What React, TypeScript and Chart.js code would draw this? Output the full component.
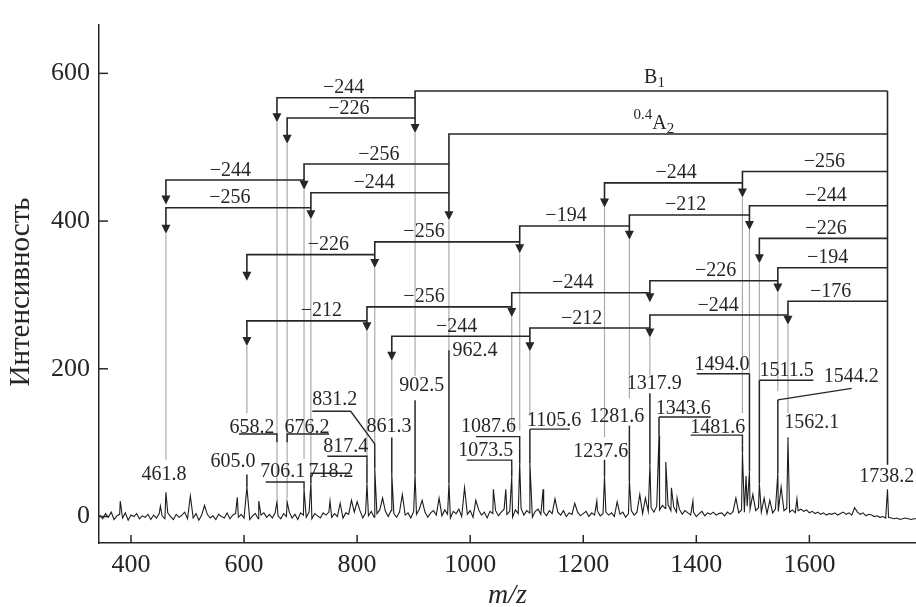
import { useEffect, useRef } from "react";
import { Chart, registerables } from "chart.js";

Chart.register(...registerables);

const FONT = '"Liberation Serif", "Times New Roman", serif';
const INK = "#262626";
const GRAY = "#ababab";

// ---------- data ----------
const xTicks = [400, 600, 800, 1000, 1200, 1400, 1600];
const yTicks = [0, 200, 400, 600];
const xTitle = "m/z";
const yTitle = "Интенсивность";

// baseline noise, read roughly every 5 m/z starting at 345
const noiseStartMz = 345;
const noiseStepMz = 5;
const noise = [
  2, -3, 4, -1, 6, -4, 1, 3, -2, 5, -5, 2, 0, 4, -3, 1, -1, 3, -4, 2,
  -2, 4, 1, -3, 5, 0, -4, 3, -1, 2, 6, -3, 1, -2, 4, -5, 2, 0, 3, -2,
  1, -4, 3, 0, -2, 5, -3, 2, 4, -1, 3, -2, 6, -4, 1, 4, -3, 2, 5, -1,
  3, -2, 5, 1, -3, 4, 0, 6, -2, 3, -4, 5, 2, -1, 6, -3, 4, 1, -2, 5,
  2, 6, -1, 4, 0, 7, -2, 5, 3, -1, 6, 2, 8, -2, 5, 1, 7, -1, 4, 9,
  3, 7, 0, 8, 4, -1, 6, 9, 2, 5, -2, 7, 3, 10, 1, 6, -1, 5, 8, 2,
  6, 1, 9, 3, -2, 7, 4, 10, 0, 6, 3, 8, -1, 5, 9, 2, 6, -2, 7, 4,
  8, 1, 6, 10, 3, 7, -1, 9, 4, 11, 2, 8, 5, -1, 7, 10, 3, 6, 1, 8,
  4, -1, 6, 2, 8, 0, 5, 3, -2, 6, 1, 4, 7, 0, 5, 2, 8, 1, 4, 6,
  2, 5, 0, 7, 3, 6, -1, 4, 8, 2, 6, 9, 4, 10, 7, 12, 6, 14, 9, 15,
  11, 16, 8, 13, 6, 10, 3, 8, 5, 2, 6, 0, 4, 7, 1, 5, 3, 6, 2, 4,
  5, 1, 6, 3, 7, 2, 5, 9, 6, 14, 10, 16, 8, 12, 6, 9, 4, 8, 5, 10,
  7, 12, 8, 11, 6, 9, 5, 8, 10, 7, 9, 5, 7, 4, 6, 3, 5, 2, 4, 3,
  5, 2, 4, 6, 3, 5, 2, 4, 6, 3, 5, 1, 3, 2, 0, 1, -1, 0, -2, -1,
  -2, -3, -2, -4, -3, -2, -3, -4, -3, -3,
];

// unlabelled spikes
const extraPeakMz = [381, 452, 505, 530, 588, 626, 752, 770, 790, 800, 845, 880, 915, 945, 990, 1010, 1041, 1063, 1129, 1150, 1185, 1224, 1260, 1300, 1310, 1346, 1356, 1366, 1394, 1470, 1488, 1500, 1520, 1530, 1550, 1578, 1680];
const extraPeakHeight = [21, 14, 28, 15, 26, 21, 21, 18, 22, 20, 25, 30, 22, 25, 39, 22, 37, 37, 37, 24, 18, 21, 20, 30, 25, 74, 39, 25, 21, 25, 55, 30, 25, 22, 40, 24, 12];

// labelled ions
const ionText = ["461.8", "605.0", "658.2", "676.2", "706.1", "718.2", "817.4", "831.2", "861.3", "902.5", "962.4", "1073.5", "1087.6", "1105.6", "1237.6", "1281.6", "1317.9", "1343.6", "1481.6", "1494.0", "1511.5", "1544.2", "1562.1", "1738.2"];
const ionMz = [461.8, 605.0, 658.2, 676.2, 706.1, 718.2, 817.4, 831.2, 861.3, 902.5, 962.4, 1073.5, 1087.6, 1105.6, 1237.6, 1281.6, 1317.9, 1334, 1481.6, 1494.0, 1511.5, 1544.2, 1562.1, 1738.2];
const ionHeight = [33, 40, 20, 20, 37, 45, 45, 65, 58, 57, 45, 54, 72, 72, 54, 48, 70, 110, 87, 61, 45, 59, 105, 37];

// fragmentation losses (parent -> daughter)
const lossFrom = [1738.2, 1738.2, 902.5, 902.5, 962.4, 962.4, 706.1, 718.2, 1281.6, 1087.6, 831.2, 817.4, 1073.5, 1105.6, 1317.9, 1317.9, 1562.1, 1544.2, 1481.6, 1494.0, 1738.2, 1738.2, 1738.2, 1738.2, 1738.2];
const lossTo = [902.5, 962.4, 658.2, 676.2, 706.1, 718.2, 461.8, 461.8, 1087.6, 831.2, 605.0, 605.0, 817.4, 861.3, 1105.6, 1073.5, 1317.9, 1317.9, 1237.6, 1281.6, 1481.6, 1494.0, 1511.5, 1544.2, 1562.1];
const lossText = ["B_{1}", "^{0.4}A_{2}", "−244", "−226", "−256", "−244", "−244", "−256", "−194", "−256", "−226", "−212", "−256", "−244", "−212", "−244", "−244", "−226", "−244", "−212", "−256", "−244", "−226", "−194", "−176"];

// ---------- annotation layout (axis units) ----------
const lossLevel = [576.2, 517.9, 566.9, 539.5, 477.2, 438.4, 455.6, 418.1, 393.4, 371.8, 354.6, 264.9, 283.8, 244.1, 255.2, 302.9, 272.8, 319.2, 451.7, 408.3, 467.2, 420.8, 376.6, 336.8, 291.4];
const lossTip = [519.2, 401.3, 533.8, 504.6, 442.4, 402.6, 422.5, 383, 356.3, 336.4, 319.2, 230.9, 250.7, 211, 223.8, 270.2, 242.4, 290.1, 418.5, 374.8, 431.8, 388.1, 343, 303.3, 259.6];
const lossLabelX = [1326, 1325, 776, 785.6, 838.4, 829.9, 575.7, 575.1, 1169.5, 918.3, 749, 736.6, 918.3, 976.2, 1197.3, 1181.4, 1438.4, 1434, 1364.1, 1380.9, 1626.4, 1629.4, 1629.4, 1632.4, 1637.7];
const lossLabelLift = [8.3, 5, 4.5, 4.5, 4.5, 4.5, 4.5, 4.5, 4.5, 4.5, 4.5, 4.5, 4.5, 4.5, 4.5, 4.5, 4.5, 4.5, 4.5, 4.5, 4.5, 4.5, 4.5, 4.5, 4.5];

const ionLabelX = [458.4, 580.4, 614, 711.4, 668.4, 753.8, 779.8, 760.5, 856.4, 914.3, 1008.5, 1027.6, 1032.6, 1148.3, 1231, 1259.2, 1325.7, 1377, 1438, 1445.5, 1559.9, 1674.1, 1604.2, 1736.8];
const ionLabelY = [57, 74, 120.5, 120.5, 61, 61, 94, 158, 122, 176.5, 225, 89.7, 122, 129.4, 88.3, 134.7, 180, 145.7, 120.5, 205.3, 197.7, 189.8, 127, 54];
const ionGrayEnd: (number | null)[] = [76.8, 140, 25, 25, 78, 58.7, 81.7, 98.4, 135, 190.7, 225, 116.6, 116.6, 136.4, 107.3, 160, 190.7, null, 140, 193.4, 184.5, 169.5, 140, 70.2];
const ionStemTop: (number | null)[] = [null, 57, null, null, null, 58.7, 72, 83.4, 107, 157.6, 225, 65.3, 91.8, 118.3, 76.8, 123, 167, 134.7, 96.3, 193.4, 184.5, 158, 107, null];
const ionLeader: (number[][] | null)[] = [
  null,
  null,
  [[591, 111.7], [658.2, 111.7], [658.2, 100.7]],
  [[750.3, 111.7], [676.2, 111.7], [676.2, 100.7]],
  [[638.3, 46.8], [706.1, 46.8], [706.1, 37]],
  [[788.6, 58.7], [718.2, 58.7]],
  [[747.3, 81.7], [817.4, 81.7], [817.4, 72]],
  [[720.7, 142.6], [788.6, 142.6], [831.2, 98.4], [831.2, 83.4]],
  null,
  null,
  null,
  [[993.9, 76.4], [1073.5, 76.4], [1073.5, 65.3]],
  [[1010.3, 108.2], [1087.6, 108.2], [1087.6, 91.8]],
  [[1176.6, 118.3], [1105.6, 118.3]],
  null,
  null,
  null,
  [[1425.5, 134.7], [1334, 134.7]],
  [[1390, 110.3], [1481.6, 110.3], [1481.6, 96.3]],
  [[1400.7, 193.4], [1494, 193.4]],
  [[1607, 184.5], [1511.5, 184.5]],
  [[1674.8, 173.5], [1544.2, 158]],
  null,
  null,
];

function buildSpectrum() {
  const m = new Map<number, number>();
  noise.forEach((v, i) => m.set(+(noiseStartMz + i * noiseStepMz).toFixed(2), v));
  ionMz.forEach((x, i) => m.set(x, ionHeight[i]));
  extraPeakMz.forEach((x, i) => m.set(x, extraPeakHeight[i]));
  return [...m.entries()].sort((a, b) => a[0] - b[0]).map(([x, y]) => ({ x, y }));
}

function drawRich(ctx: CanvasRenderingContext2D, text: string, cx: number, baseY: number) {
  const parts: { s: string; size: number; dy: number; w: number }[] = [];
  const re = /\^\{([^}]*)\}|_\{([^}]*)\}|([^^_]+)/g;
  let m: RegExpExecArray | null;
  while ((m = re.exec(text))) {
    if (m[1] !== undefined) parts.push({ s: m[1], size: 15, dy: -10, w: 0 });
    else if (m[2] !== undefined) parts.push({ s: m[2], size: 15, dy: 4, w: 0 });
    else parts.push({ s: m[3], size: 20, dy: 0, w: 0 });
  }
  let total = 0;
  parts.forEach((p) => {
    ctx.font = `${p.size}px ${FONT}`;
    p.w = ctx.measureText(p.s).width;
    total += p.w;
  });
  let x = cx - total / 2;
  ctx.textAlign = "left";
  ctx.textBaseline = "alphabetic";
  parts.forEach((p) => {
    ctx.font = `${p.size}px ${FONT}`;
    ctx.fillText(p.s, x, baseY + p.dy);
    x += p.w;
  });
}

const annotate = {
  id: "annotate",
  afterDraw(chart: any) {
    const { ctx, chartArea, scales } = chart;
    const X = (v: number) => scales.x.getPixelForValue(v);
    const Y = (v: number) => scales.y.getPixelForValue(v);
    const seg = (x1: number, y1: number, x2: number, y2: number) => {
      ctx.beginPath();
      ctx.moveTo(x1, y1);
      ctx.lineTo(x2, y2);
      ctx.stroke();
    };
    const ionIndex = (v: number) => ionText.findIndex((t) => parseFloat(t) === v);

    ctx.save();
    ctx.lineCap = "butt";
    ctx.lineJoin = "miter";

    // inward tick marks
    ctx.strokeStyle = INK;
    ctx.lineWidth = 1.5;
    xTicks.forEach((v) => seg(X(v), chartArea.bottom, X(v), chartArea.bottom - 8));
    yTicks.forEach((v) => seg(chartArea.left, Y(v), chartArea.left + 9, Y(v)));

    // gray guide lines from arrows down to labels
    ctx.strokeStyle = GRAY;
    ctx.lineWidth = 1.2;
    ionText.forEach((t, i) => {
      const v = parseFloat(t);
      const tips = lossTip.filter((_, k) => lossTo[k] === v);
      const end = ionGrayEnd[i];
      if (!tips.length || end === null) return;
      seg(X(ionMz[i]), Y(Math.min(...tips)), X(ionMz[i]), Y(end));
    });

    ctx.strokeStyle = INK;
    ctx.fillStyle = INK;
    ctx.lineWidth = 1.6;

    // root vertical (precursor)
    ionText.forEach((t, i) => {
      const v = parseFloat(t);
      const outs = lossLevel.filter((_, k) => lossFrom[k] === v);
      const ins = lossTo.filter((w) => w === v);
      const end = ionGrayEnd[i];
      if (outs.length && !ins.length && end !== null) seg(X(ionMz[i]), Y(Math.max(...outs)), X(ionMz[i]), Y(end));
    });

    // loss brackets with arrows
    lossFrom.forEach((from, k) => {
      const xf = X(ionMz[ionIndex(from)]);
      const xt = X(ionMz[ionIndex(lossTo[k])]);
      const yl = Y(lossLevel[k]);
      const yt = Y(lossTip[k]);
      ctx.beginPath();
      ctx.moveTo(xf, yl);
      ctx.lineTo(xt, yl);
      ctx.lineTo(xt, yt - 8);
      ctx.stroke();
      ctx.beginPath();
      ctx.moveTo(xt, yt);
      ctx.lineTo(xt - 4.5, yt - 9);
      ctx.lineTo(xt + 4.5, yt - 9);
      ctx.closePath();
      ctx.fill();
      drawRich(ctx, lossText[k], X(lossLabelX[k]), yl - lossLabelLift[k]);
    });

    // leaders and stems
    ctx.lineWidth = 1.4;
    ionLeader.forEach((pts) => {
      if (!pts) return;
      ctx.beginPath();
      pts.forEach(([a, b], j) => (j ? ctx.lineTo(X(a), Y(b)) : ctx.moveTo(X(a), Y(b))));
      ctx.stroke();
    });
    ctx.lineWidth = 1.5;
    ionStemTop.forEach((top, i) => {
      if (top === null || top <= ionHeight[i]) return;
      seg(X(ionMz[i]), Y(top), X(ionMz[i]), Y(ionHeight[i]));
    });

    // ion labels
    ctx.font = `20px ${FONT}`;
    ctx.textAlign = "center";
    ctx.textBaseline = "middle";
    ionText.forEach((t, i) => ctx.fillText(t, X(ionLabelX[i]), Y(ionLabelY[i])));

    // axis titles
    ctx.font = `italic 28px ${FONT}`;
    ctx.textAlign = "center";
    ctx.textBaseline = "alphabetic";
    ctx.fillText(xTitle, (chartArea.left + chartArea.right) / 2, 603);
    ctx.translate(21, 292);
    ctx.rotate(-Math.PI / 2);
    ctx.font = `29px ${FONT}`;
    ctx.textBaseline = "middle";
    ctx.fillText(yTitle, 0, 0);
    ctx.restore();
  },
};

export default function App() {
  const ref = useRef<HTMLCanvasElement>(null);
  useEffect(() => {
    const canvas = ref.current!;
    const chart = new Chart(canvas, {
      type: "line",
      data: {
        datasets: [
          {
            data: buildSpectrum(),
            borderColor: "#1c1c1c",
            borderWidth: 1.1,
            pointRadius: 0,
            tension: 0,
            fill: false,
          },
        ],
      },
      options: {
        animation: false,
        responsive: false,
        devicePixelRatio: 1,
        events: [],
        layout: { padding: { top: 13, right: 0, left: 0, bottom: 0 } },
        plugins: { legend: { display: false }, tooltip: { enabled: false } },
        scales: {
          x: {
            type: "linear",
            min: 343.4,
            max: 1788.6,
            afterBuildTicks: (a: any) => {
              a.ticks = xTicks.map((v) => ({ value: v }));
            },
            afterFit: (s: any) => {
              s.height = 64;
            },
            grid: { display: false, drawTicks: false },
            border: { display: true, color: INK, width: 1.5 },
            ticks: {
              font: { family: FONT, size: 26 },
              color: INK,
              padding: 7,
              maxRotation: 0,
              autoSkip: false,
              callback: (v: any) => String(v),
            },
          },
          y: {
            type: "linear",
            min: -35.8,
            max: 666,
            afterBuildTicks: (a: any) => {
              a.ticks = yTicks.map((v) => ({ value: v }));
            },
            afterFit: (s: any) => {
              s.width = 99;
            },
            grid: { display: false, drawTicks: false },
            border: { display: true, color: INK, width: 1.5 },
            ticks: { font: { family: FONT, size: 26 }, color: INK, padding: 9, callback: (v: any) => String(v) },
          },
        },
      } as any,
      plugins: [annotate],
    });
    return () => chart.destroy();
  }, []);
  return (
    <div style={{ position: "absolute", left: 0, top: 0, width: 916, height: 607, background: "#fff" }}>
      <canvas ref={ref} width={916} height={607} style={{ display: "block", width: 916, height: 607 }} />
    </div>
  );
}
